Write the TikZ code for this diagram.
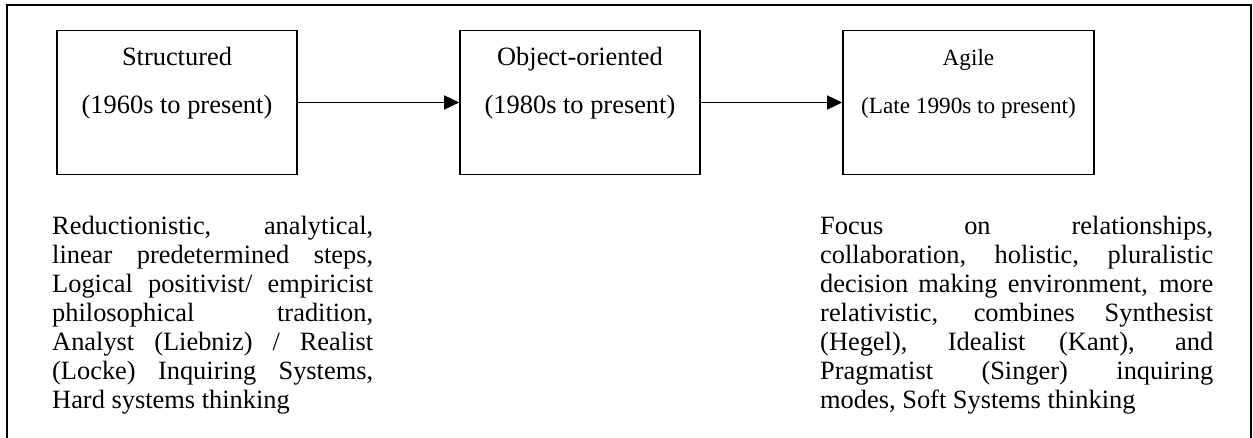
\documentclass[tikz,border=0pt]{standalone}
\usepackage{fontspec}
\setmainfont{Liberation Serif}
\usetikzlibrary{arrows.meta}
\newcommand{\nohyph}{\hyphenpenalty=10000\relax\tolerance=9999\relax}
\begin{document}
\begin{tikzpicture}[x=1pt,y=-1pt,
  box/.style={draw,line width=1.6pt,minimum width=240pt,minimum height=144pt,inner sep=0pt},
  lbl/.style={anchor=base,inner sep=0pt,font=\fontsize{26.4}{30}\selectfont},
  smalllbl/.style={lbl,font=\fontsize{23.2}{27}\selectfont},
  para/.style={anchor=north west,inner sep=0pt,align=justify,
    font=\fontsize{26.4}{29}\selectfont\nohyph},
  conn/.style={line width=1.4pt,-{Triangle[length=15pt,width=14pt]}},
  frameline/.style={line width=1.6pt}]
\useasboundingbox (0,0) rectangle (1253,438);
% outer frame (open at the bottom)
\coordinate (fbl) at (7,438);
\coordinate (ftl) at (7,5);
\coordinate (ftr) at (1251,5);
\coordinate (fbr) at (1251,438);
\draw[frameline] (fbl) -- (ftl) -- (ftr) -- (fbr);
% boxes
\node[box] (s) at (177,102.5) {};
\node[box] (o) at (580,102.5) {};
\node[box,minimum width=251pt] (a) at (968.5,102.5) {};
\node[lbl] (s1) at (177,66) {Structured};
\node[lbl] (s2) at (177,114) {(1960s to present)};
\node[lbl] (o1) at (580,66) {Object-oriented};
\node[lbl] (o2) at (580,114) {(1980s to present)};
\node[smalllbl] (a1) at (968.5,66) {Agile};
\node[smalllbl] (a2) at (968.5,114) {(Late 1990s to present)};
% connectors
\draw[conn] (s.east) -- (o.west);
\draw[conn] (o.east) -- (a.west);
% descriptions
\node[para,text width=321pt] (sd) at (52,216) {Reductionistic, analytical,\linebreak
linear predetermined steps,\linebreak
Logical positivist/ empiricist\linebreak
philosophical tradition,\linebreak
Analyst (Liebniz) / Realist\linebreak
(Locke) Inquiring Systems,\linebreak
Hard systems thinking};
\node[para,text width=393pt] (ad) at (820,216) {Focus on relationships,\linebreak
collaboration, holistic, pluralistic\linebreak
decision making environment, more\linebreak
relativistic, combines Synthesist\linebreak
(Hegel), Idealist (Kant), and\linebreak
Pragmatist (Singer) inquiring\linebreak
modes, Soft Systems thinking};
\end{tikzpicture}
\end{document}
